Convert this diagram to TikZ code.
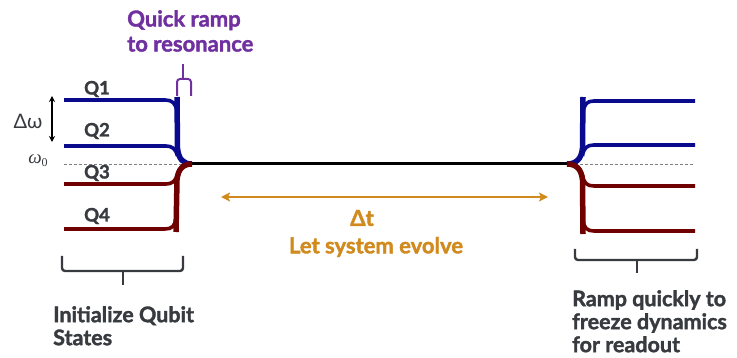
\documentclass[tikz,border=0pt]{standalone}
\usepackage{fontspec}
\setmainfont{Lato}[BoldFeatures={FakeBold=1.6}]
\newfontfamily\serifit{Liberation Serif}
\usetikzlibrary{arrows.meta}
\definecolor{qblue}{RGB}{10,10,140}
\definecolor{qred}{RGB}{110,0,0}
\definecolor{txt}{RGB}{55,58,62}
\definecolor{qpurple}{RGB}{112,48,160}
\definecolor{qorange}{RGB}{208,138,30}
\tikzset{
  qline/.style={line width=3.6pt, line cap=butt},
  vline/.style={line width=5.5pt, line cap=butt},
  lbl/.style={font=\bfseries\fontsize{18.5}{20}\selectfont, text=txt, inner sep=0pt},
  captxt/.style={font=\bfseries\fontsize{21.5}{23}\selectfont, text=txt, inner sep=0pt, align=left, anchor=north west},
  bracestyle/.style={line width=2.4pt, draw=txt, line join=round, rounded corners=3pt},
}
\begin{document}
\begin{tikzpicture}[x=1pt,y=-1pt]
\useasboundingbox (0,0) rectangle (737,358);
% reference dashed line
\coordinate (dl1) at (64,164);
\coordinate (dl2) at (182,164);
\coordinate (dr1) at (575,164);
\coordinate (dr2) at (694,164);
\draw[gray, line width=0.8pt, dash pattern=on 3pt off 2pt] (dl1) -- (dl2);
\draw[gray, line width=0.8pt, dash pattern=on 3pt off 2pt] (dr1) -- (dr2);
% join points
\coordinate (jl) at (192,164);
\coordinate (jr) at (567,164);
\draw[black, line width=3pt] (jl) -- (jr);
% left blue
\draw[qblue, vline] (177,97) -- (177.5,148) .. controls (178.5,159) and (183,164) .. (jl);
\draw[qblue, qline] (64,100) -- (165,100) .. controls (172,100) and (176,103) .. (177,112);
\draw[qblue, qline] (64,146) -- (166,146) .. controls (172,146) and (176,149) .. (177.5,156);
% left red
\draw[qred, vline] (176,232) -- (177,180) .. controls (178,169) and (183,164) .. (jl);
\draw[qred, qline] (64,184) -- (166,184) .. controls (172,184) and (176,181) .. (177.5,174);
\draw[qred, qline] (64,229) -- (165,229) .. controls (172,229) and (175,226) .. (176,218);
% right blue
\draw[qblue, vline] (583,97) -- (582.5,148) .. controls (581.5,159) and (576,164) .. (jr);
\draw[qblue, qline] (695,101) -- (594,101) .. controls (587,101) and (584,104) .. (583,113);
\draw[qblue, qline] (695,145) -- (594,145) .. controls (587,145) and (583.5,148) .. (582.5,156);
% right red
\draw[qred, vline] (583,234) -- (582.5,180) .. controls (581.5,169) and (576,164) .. (jr);
\draw[qred, qline] (695,186) -- (594,186) .. controls (587,186) and (583.5,183) .. (582.5,175);
\draw[qred, qline] (695,231) -- (594,231) .. controls (587,231) and (584,228) .. (583,220);
% qubit labels
\node[lbl] (q1) at (97,89) {Q1};
\node[lbl] (q2) at (97,131) {Q2};
\node[lbl] (q3) at (97,173) {Q3};
\node[lbl] (q4) at (97,216) {Q4};
% delta omega
\coordinate (dwa) at (52,96);
\coordinate (dwb) at (52,142);
\draw[black, line width=1.6pt, {Stealth[length=6pt,width=6pt]}-{Stealth[length=6pt,width=6pt]}] (dwa) -- (dwb);
\node[text=txt, inner sep=0pt, font=\fontsize{20}{22}\selectfont] (dw) at (28,121) {Δω};
\node[text=txt, inner sep=0pt, font=\fontsize{19}{20}\selectfont] (w0) at (38,161) {{\serifit\itshape ω}\raisebox{-3pt}{\serifit\fontsize{12}{13}\selectfont 0}};
% quick ramp
\node[font=\bfseries\fontsize{22}{25}\selectfont, text=qpurple, align=left, anchor=north west, inner sep=0pt] (qr) at (127,10) {Quick ramp\\to resonance};
\draw[qpurple, line width=2pt, line join=round] (183,64) -- (183,79);
\draw[qpurple, line width=2pt, line join=round, rounded corners=3pt] (177,96) -- (177,79) -- (191,79) -- (191,96);
% orange evolve arrow
\coordinate (ta) at (221,197);
\coordinate (tb) at (548,197);
\draw[qorange, line width=2.4pt, {Stealth[length=9pt,width=9pt,inset=2pt]}-{Stealth[length=9pt,width=9pt,inset=2pt]}] (ta) -- (tb);
\node[font=\bfseries\fontsize{22}{24}\selectfont, text=qorange, inner sep=0pt] (dt) at (362,218) {Δt};
\node[font=\bfseries\fontsize{22}{24}\selectfont, text=qorange, inner sep=0pt] (ev) at (376,247) {Let system evolve};
% braces
\draw[bracestyle] (62,256) -- (62,271) -- (183,271) -- (183,256);
\draw[bracestyle] (123,271) -- (123,285);
\draw[bracestyle] (575,249) -- (575,260) -- (697,260) -- (697,249);
\draw[bracestyle] (637,260) -- (637,273);
% captions
\node[captxt] (c1) at (53,306) {Initialize Qubit\\States};
\node[captxt] (c2) at (572,290) {Ramp quickly to\\freeze dynamics\\for readout};
\end{tikzpicture}
\end{document}
